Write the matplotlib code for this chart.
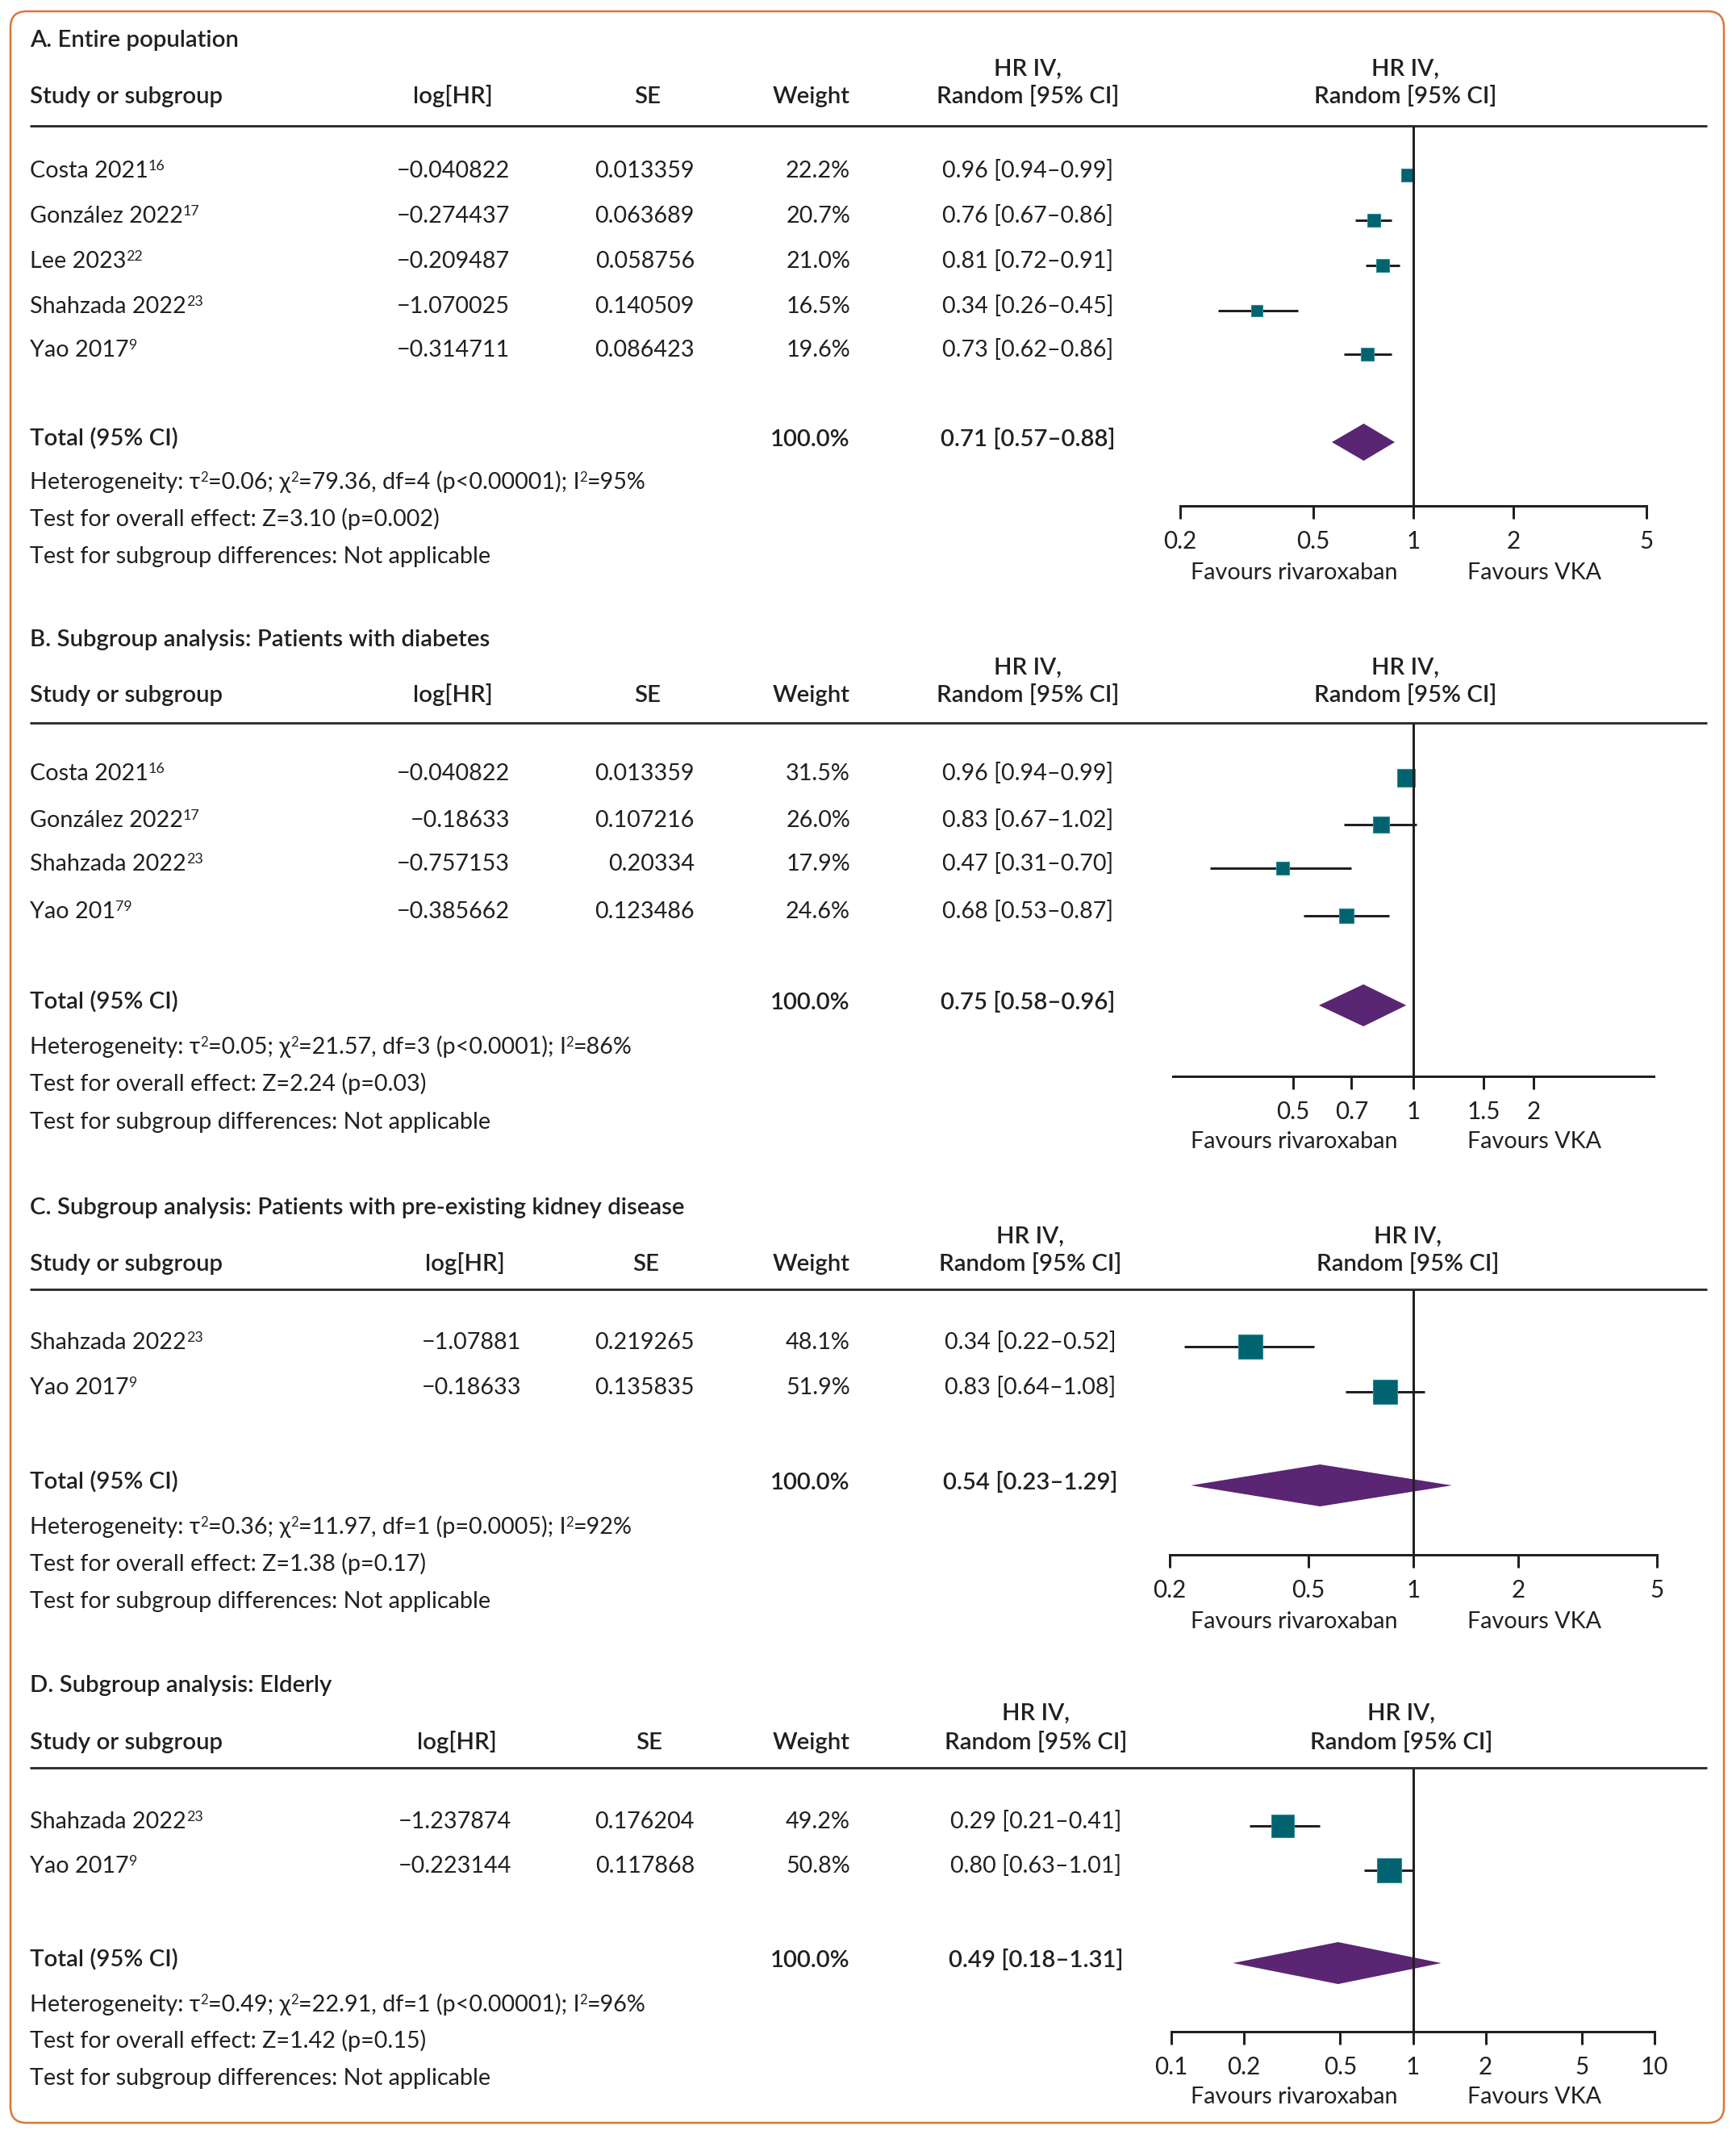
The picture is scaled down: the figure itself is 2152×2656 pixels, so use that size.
import matplotlib
matplotlib.use("Agg")
import matplotlib.pyplot as plt
from matplotlib.patches import FancyBboxPatch

W, H = 2152, 2656
FONT = ["Lato", "DejaVu Sans"]
TXT = "#231F20"
RULE = "#333333"
TEAL = "#00636F"
TEAL_EDGE = "#2E8C96"
PURPLE = "#5A2572"
ORANGE = "#DA763C"

# ---------------- data ----------------
A_title = "A. Entire population"
A_studies = ["Costa 2021", "González 2022", "Lee 2023", "Shahzada 2022", "Yao 2017"]
A_refs = ["16", "17", "22", "23", "9"]
A_loghr = [-0.040822, -0.274437, -0.209487, -1.070025, -0.314711]
A_se = [0.013359, 0.063689, 0.058756, 0.140509, 0.086423]
A_weight = [22.2, 20.7, 21.0, 16.5, 19.6]
A_hr = [0.96, 0.76, 0.81, 0.34, 0.73]
A_lo = [0.94, 0.67, 0.72, 0.26, 0.62]
A_hi = [0.99, 0.86, 0.91, 0.45, 0.86]
A_total = [0.71, 0.57, 0.88]
A_het = "Heterogeneity: τ^2=0.06; χ^2=79.36, df=4 (p<0.00001); I^2=95%"
A_overall = "Test for overall effect: Z=3.10 (p=0.002)"
A_ticks = [0.2, 0.5, 1, 2, 5]
A_xlim = [0.2, 5]

B_title = "B. Subgroup analysis: Patients with diabetes"
B_studies = ["Costa 2021", "González 2022", "Shahzada 2022", "Yao 201"]
B_refs = ["16", "17", "23", "79"]
B_loghr = [-0.040822, -0.18633, -0.757153, -0.385662]
B_se = [0.013359, 0.107216, 0.20334, 0.123486]
B_weight = [31.5, 26.0, 17.9, 24.6]
B_hr = [0.96, 0.83, 0.47, 0.68]
B_lo = [0.94, 0.67, 0.31, 0.53]
B_hi = [0.99, 1.02, 0.70, 0.87]
B_total = [0.75, 0.58, 0.96]
B_het = "Heterogeneity: τ^2=0.05; χ^2=21.57, df=3 (p<0.0001); I^2=86%"
B_overall = "Test for overall effect: Z=2.24 (p=0.03)"
B_ticks = [0.5, 0.7, 1, 1.5, 2]
B_xlim = [0.25, 4]

C_title = "C. Subgroup analysis: Patients with pre-existing kidney disease"
C_studies = ["Shahzada 2022", "Yao 2017"]
C_refs = ["23", "9"]
C_loghr = [-1.07881, -0.18633]
C_se = [0.219265, 0.135835]
C_weight = [48.1, 51.9]
C_hr = [0.34, 0.83]
C_lo = [0.22, 0.64]
C_hi = [0.52, 1.08]
C_total = [0.54, 0.23, 1.29]
C_het = "Heterogeneity: τ^2=0.36; χ^2=11.97, df=1 (p=0.0005); I^2=92%"
C_overall = "Test for overall effect: Z=1.38 (p=0.17)"
C_ticks = [0.2, 0.5, 1, 2, 5]
C_xlim = [0.2, 5]

D_title = "D. Subgroup analysis: Elderly"
D_studies = ["Shahzada 2022", "Yao 2017"]
D_refs = ["23", "9"]
D_loghr = [-1.237874, -0.223144]
D_se = [0.176204, 0.117868]
D_weight = [49.2, 50.8]
D_hr = [0.29, 0.80]
D_lo = [0.21, 0.63]
D_hi = [0.41, 1.01]
D_total = [0.49, 0.18, 1.31]
D_het = "Heterogeneity: τ^2=0.49; χ^2=22.91, df=1 (p<0.00001); I^2=96%"
D_overall = "Test for overall effect: Z=1.42 (p=0.15)"
D_ticks = [0.1, 0.2, 0.5, 1, 2, 5, 10]
D_xlim = [0.1, 10]

SUBGROUP_TXT = "Test for subgroup differences: Not applicable"
FAV_LEFT = "Favours rivaroxaban"
FAV_RIGHT = "Favours VKA"

# ---------------- layout (pixels) ----------------
LAYOUT = {
    "A": dict(title=47, hr1=83, head=117, rule=156, rows=[210, 266, 322, 378, 432],
              total=542, het=596, overall=642, sub=688, axis=627, fav=708,
              ax_x=(1463, 2041), loghr_c=561, loghr_r=632, se_c=803, hr_c=1274,
              forest_c=1742, box=3.4, dia=23),
    "B": dict(title=790, hr1=825, head=859, rule=896, rows=[957, 1015, 1069, 1128],
              total=1240, het=1296, overall=1342, sub=1389, axis=1334, fav=1413,
              ax_x=(1454, 2050), loghr_c=561, loghr_r=632, se_c=803, hr_c=1274,
              forest_c=1742, box=3.8, dia=26),
    "C": dict(title=1494, hr1=1530, head=1564, rule=1598, rows=[1662, 1718],
              total=1835, het=1891, overall=1937, sub=1983, axis=1927, fav=2008,
              ax_x=(1450, 2054), loghr_c=576, loghr_r=646, se_c=801, hr_c=1277,
              forest_c=1745, box=4.25, dia=26),
    "D": dict(title=2086, hr1=2121, head=2157, rule=2191, rows=[2256, 2311],
              total=2427, het=2483, overall=2528, sub=2574, axis=2518, fav=2597,
              ax_x=(1452, 2051), loghr_c=566, loghr_r=634, se_c=805, hr_c=1284,
              forest_c=1737, box=4.1, dia=26),
}

PANELS = {
    "A": dict(title=A_title, studies=A_studies, refs=A_refs, loghr=A_loghr, se=A_se,
              weight=A_weight, hr=A_hr, lo=A_lo, hi=A_hi, total=A_total, het=A_het,
              overall=A_overall, ticks=A_ticks, xlim=A_xlim),
    "B": dict(title=B_title, studies=B_studies, refs=B_refs, loghr=B_loghr, se=B_se,
              weight=B_weight, hr=B_hr, lo=B_lo, hi=B_hi, total=B_total, het=B_het,
              overall=B_overall, ticks=B_ticks, xlim=B_xlim),
    "C": dict(title=C_title, studies=C_studies, refs=C_refs, loghr=C_loghr, se=C_se,
              weight=C_weight, hr=C_hr, lo=C_lo, hi=C_hi, total=C_total, het=C_het,
              overall=C_overall, ticks=C_ticks, xlim=C_xlim),
    "D": dict(title=D_title, studies=D_studies, refs=D_refs, loghr=D_loghr, se=D_se,
              weight=D_weight, hr=D_hr, lo=D_lo, hi=D_hi, total=D_total, het=D_het,
              overall=D_overall, ticks=D_ticks, xlim=D_xlim),
}

STUDY_X = 37
WEIGHT_R = 1054
RULE_X = (37, 2116)
FAV_L_R = 1733
FAV_R_L = 1819
PX2PT = 72.0 / 100.0

fig = plt.figure(figsize=(W / 100, H / 100), dpi=100)
fig.patch.set_facecolor("white")
ov = fig.add_axes([0, 0, 1, 1])
ov.set_xlim(0, W)
ov.set_ylim(H, 0)
ov.axis("off")
renderer = fig.canvas.get_renderer()


def text_width(s, size, weight):
    t = ov.text(0, 0, s, fontsize=size, fontweight=weight, family=FONT)
    w = t.get_window_extent(renderer).width
    t.remove()
    return w


# fit font sizes to reference text widths
REG = 10 * 572 / text_width(SUBGROUP_TXT, 10, "normal")
BOLD = 10 * 573 / text_width(B_title, 10, "semibold")


def baseline(yc, size):
    return yc + 0.36 * size / PX2PT


def put(x, yc, s, size=None, weight="normal", ha="left"):
    size = size or REG
    ov.text(x, baseline(yc, size), s, fontsize=size, fontweight=weight,
            family=FONT, color=TXT, ha=ha, va="baseline")


def rich(x, yc, segs, size=None, weight="normal", ha="left", sup_scale=0.62):
    size = size or REG
    em = size / PX2PT
    yb = baseline(yc, size)
    ws = []
    for s, sup in segs:
        ws.append(text_width(s, size * sup_scale if sup else size, weight))
    total = sum(ws)
    cx = x if ha == "left" else (x - total if ha == "right" else x - total / 2)
    for (s, sup), w in zip(segs, ws):
        ov.text(cx, yb - (0.34 * em if sup else 0), s,
                fontsize=size * sup_scale if sup else size, fontweight=weight,
                family=FONT, color=TXT, ha="left", va="baseline")
        cx += w


def parse_sup(s):
    segs = []
    parts = s.split("^")
    segs.append((parts[0], False))
    for p in parts[1:]:
        segs.append((p[0], True))
        if p[1:]:
            segs.append((p[1:], False))
    return segs


def num(v):
    return str(v).replace("-", "\u2212")


def ci(h, l, u):
    return f"{h:.2f} [{l:.2f}\u2013{u:.2f}]"


for key in ["A", "B", "C", "D"]:
    P = PANELS[key]
    L = LAYOUT[key]
    # titles & headers
    put(STUDY_X, L["title"], P["title"], BOLD, "semibold")
    put(STUDY_X, L["head"], "Study or subgroup", BOLD, "semibold")
    put(L["loghr_c"], L["head"], "log[HR]", BOLD, "semibold", "center")
    put(L["se_c"], L["head"], "SE", BOLD, "semibold", "center")
    put(WEIGHT_R, L["head"], "Weight", BOLD, "semibold", "right")
    put(L["hr_c"], L["hr1"], "HR IV,", BOLD, "semibold", "center")
    put(L["hr_c"], L["head"], "Random [95% CI]", BOLD, "semibold", "center")
    put(L["forest_c"], L["hr1"], "HR IV,", BOLD, "semibold", "center")
    put(L["forest_c"], L["head"], "Random [95% CI]", BOLD, "semibold", "center")
    ov.plot(RULE_X, [L["rule"], L["rule"]], color=RULE, lw=3 * PX2PT,
            solid_capstyle="butt")

    for i, y in enumerate(L["rows"]):
        rich(STUDY_X, y, [(P["studies"][i], False), (P["refs"][i], True)])
        put(L["loghr_r"], y, num(P["loghr"][i]), ha="right")
        put(861, y, num(P["se"][i]), ha="right")
        put(WEIGHT_R, y, f"{P['weight'][i]:.1f}%", ha="right")
        put(L["hr_c"], y, ci(P["hr"][i], P["lo"][i], P["hi"][i]), ha="center")

    put(STUDY_X, L["total"], "Total (95% CI)", BOLD, "semibold")
    put(WEIGHT_R, L["total"], "100.0%", BOLD, "semibold", "right")
    put(L["hr_c"], L["total"], ci(*P["total"]), BOLD, "semibold", "center")
    rich(STUDY_X, L["het"], parse_sup(P["het"]), sup_scale=0.58)
    put(STUDY_X, L["overall"], P["overall"])
    put(STUDY_X, L["sub"], SUBGROUP_TXT)

    put(FAV_L_R, L["fav"], FAV_LEFT, ha="right")
    put(FAV_R_L, L["fav"], FAV_RIGHT, ha="left")

    # forest axes
    x0, x1 = L["ax_x"]
    ax = fig.add_axes([x0 / W, 1 - L["axis"] / H, (x1 - x0) / W,
                       (L["axis"] - L["rule"]) / H])
    ax.set_xscale("log")
    ax.set_xlim(*P["xlim"])
    ax.set_ylim(L["axis"], L["rule"])
    ax.patch.set_alpha(0)
    for sp in ["left", "right", "top"]:
        ax.spines[sp].set_visible(False)
    ax.spines["bottom"].set_linewidth(3 * PX2PT)
    ax.spines["bottom"].set_color(TXT)
    ax.set_yticks([])
    ax.set_xticks(P["ticks"])
    ax.set_xticklabels([f"{t:g}" for t in P["ticks"]], family=FONT,
                       fontsize=REG * 1.03, color=TXT)
    ax.xaxis.set_minor_locator(matplotlib.ticker.NullLocator())
    ax.tick_params(axis="x", direction="out", length=16 * PX2PT, width=3 * PX2PT,
                   color=TXT, pad=10)
    ax.plot([1, 1], [L["rule"], L["axis"]], color=TXT, lw=3 * PX2PT, zorder=6,
            solid_capstyle="butt", clip_on=False)
    ys = [y + 7 for y in L["rows"]]
    ax.hlines(ys, P["lo"], P["hi"], color=TXT, lw=3 * PX2PT, zorder=3)
    for i, y in enumerate(ys):
        side = L["box"] * P["weight"][i] ** 0.5
        ax.plot([P["hr"][i]], [y], marker="s", markersize=side * PX2PT,
                markerfacecolor=TEAL, markeredgecolor=TEAL_EDGE,
                markeredgewidth=0.8, linestyle="none", zorder=4)
    th, tl, tu = P["total"]
    yt = L["total"] + 6
    hh = L["dia"]
    ax.fill([tl, th, tu, th], [yt, yt - hh, yt, yt + hh], color=PURPLE,
            lw=0, zorder=4)

border = FancyBboxPatch((13 + 20, 14 + 20), 2137 - 13 - 40, 2631 - 14 - 40,
                        boxstyle="round,pad=20", fill=False, edgecolor=ORANGE,
                        linewidth=2.5 * PX2PT)
ov.add_patch(border)

fig.savefig("out.png", dpi=100, facecolor="white")
